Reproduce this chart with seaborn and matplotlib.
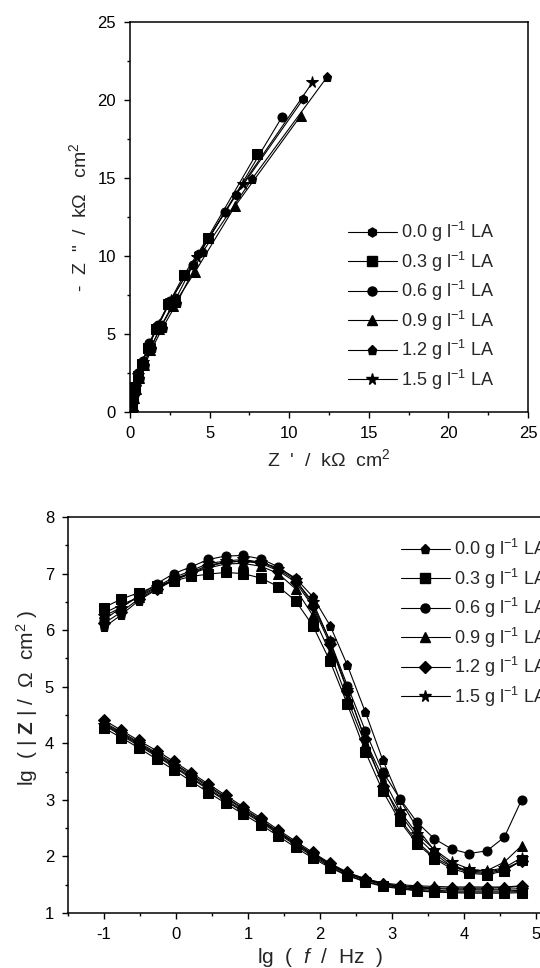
import numpy as np
import pandas as pd
import matplotlib
matplotlib.use("Agg")
import matplotlib.pyplot as plt
from matplotlib.lines import Line2D
from matplotlib.ticker import MultipleLocator
import seaborn as sns

sns.set_style("white")
plt.rcParams['font.family'] = ['Liberation Sans', 'DejaVu Sans']
plt.rcParams['mathtext.fontset'] = 'custom'
plt.rcParams['mathtext.rm'] = 'Liberation Sans'
plt.rcParams['mathtext.it'] = 'Liberation Sans:italic'
plt.rcParams['mathtext.bf'] = 'Liberation Sans:bold'
plt.rcParams['mathtext.default'] = 'regular'
plt.rcParams['axes.unicode_minus'] = False

# ---------------- data ----------------
labels = ["0.0 g l$^{-1}$ LA", "0.3 g l$^{-1}$ LA", "0.6 g l$^{-1}$ LA",
          "0.9 g l$^{-1}$ LA", "1.2 g l$^{-1}$ LA", "1.5 g l$^{-1}$ LA"]
nyq_markers = ["h", "s", "o", "^", "p", "*"]
bode_markers = ["p", "s", "o", "^", "D", "*"]

# Nyquist: Z' (kOhm cm2) and -Z'' (kOhm cm2)
nyq_x_00 = [0.12, 0.16, 0.24, 0.38, 0.58, 0.90, 1.35, 2.00, 2.90, 4.30, 6.65, 10.88]
nyq_y_00 = [0.00, 0.40, 0.90, 1.50, 2.20, 3.10, 4.20, 5.60, 7.30, 10.10, 13.90, 20.06]
nyq_x_03 = [0.10, 0.14, 0.21, 0.33, 0.50, 0.76, 1.12, 1.65, 2.40, 3.40, 4.87, 7.95]
nyq_y_03 = [0.00, 0.45, 1.00, 1.60, 2.30, 3.10, 4.10, 5.30, 6.90, 8.80, 11.15, 16.56]
nyq_x_06 = [0.10, 0.14, 0.22, 0.35, 0.52, 0.80, 1.20, 1.75, 2.50, 3.93, 5.96, 9.54]
nyq_y_06 = [0.00, 0.50, 1.10, 1.70, 2.50, 3.30, 4.40, 5.60, 7.10, 9.40, 12.82, 18.90]
nyq_x_09 = [0.12, 0.16, 0.24, 0.36, 0.55, 0.85, 1.25, 1.85, 2.70, 4.10, 6.60, 10.73]
nyq_y_09 = [0.00, 0.40, 0.90, 1.50, 2.20, 3.00, 4.00, 5.30, 6.80, 9.00, 13.20, 19.00]
nyq_x_12 = [0.12, 0.17, 0.26, 0.40, 0.60, 0.92, 1.40, 2.05, 2.95, 4.56, 7.68, 12.40]
nyq_y_12 = [0.00, 0.40, 0.90, 1.50, 2.20, 3.00, 4.10, 5.40, 7.00, 10.26, 14.96, 21.50]
nyq_x_15 = [0.10, 0.14, 0.22, 0.34, 0.52, 0.80, 1.20, 1.80, 2.60, 4.18, 7.07, 11.46]
nyq_y_15 = [0.00, 0.45, 1.00, 1.60, 2.35, 3.20, 4.30, 5.60, 7.20, 9.94, 14.60, 21.13]

# Bode: lg(f/Hz) and lg(|Z| / Ohm cm2)
lgf = [-1.00, -0.76, -0.52, -0.27, -0.03, 0.21, 0.45, 0.69, 0.93, 1.18, 1.42, 1.66, 1.90,
       2.14, 2.38, 2.63, 2.87, 3.11, 3.35, 3.59, 3.83, 4.07, 4.32, 4.56, 4.80]
up_00 = [6.05, 6.27, 6.52, 6.72, 6.88, 7.00, 7.13, 7.20, 7.22, 7.20, 7.10, 6.92, 6.59,
         6.08, 5.38, 4.55, 3.71, 3.00, 2.50, 2.10, 1.85, 1.74, 1.72, 1.78, 1.92]
up_03 = [6.40, 6.55, 6.66, 6.78, 6.87, 6.95, 6.99, 7.02, 7.00, 6.92, 6.77, 6.52, 6.08,
         5.45, 4.69, 3.85, 3.16, 2.62, 2.22, 1.96, 1.78, 1.70, 1.68, 1.74, 1.93]
up_06 = [6.18, 6.40, 6.60, 6.82, 7.00, 7.12, 7.25, 7.31, 7.32, 7.26, 7.12, 6.90, 6.45,
         5.81, 5.02, 4.22, 3.50, 3.02, 2.60, 2.31, 2.13, 2.05, 2.10, 2.34, 3.00]
up_09 = [6.30, 6.45, 6.58, 6.75, 6.90, 7.00, 7.10, 7.17, 7.18, 7.13, 7.00, 6.73, 6.26,
         5.60, 4.78, 3.98, 3.30, 2.66, 2.26, 1.98, 1.82, 1.75, 1.75, 1.90, 2.19]
up_12 = [6.12, 6.32, 6.55, 6.73, 6.90, 7.02, 7.15, 7.20, 7.22, 7.18, 7.05, 6.85, 6.42,
         5.75, 4.93, 4.07, 3.25, 2.75, 2.34, 2.05, 1.82, 1.72, 1.70, 1.76, 1.92]
up_15 = [6.25, 6.40, 6.60, 6.77, 6.93, 7.05, 7.18, 7.22, 7.25, 7.20, 7.08, 6.88, 6.50,
         5.80, 4.95, 4.05, 3.40, 2.80, 2.40, 2.12, 1.90, 1.78, 1.74, 1.80, 1.98]
lo_00 = [4.37, 4.20, 4.02, 3.83, 3.65, 3.45, 3.25, 3.05, 2.85, 2.65, 2.44, 2.24, 2.04,
         1.86, 1.70, 1.59, 1.51, 1.47, 1.44, 1.43, 1.42, 1.42, 1.42, 1.42, 1.43]
lo_03 = [4.27, 4.10, 3.92, 3.72, 3.53, 3.33, 3.13, 2.94, 2.75, 2.56, 2.36, 2.16, 1.97,
         1.80, 1.66, 1.55, 1.47, 1.43, 1.39, 1.37, 1.36, 1.35, 1.35, 1.35, 1.36]
lo_06 = [4.32, 4.14, 3.96, 3.77, 3.58, 3.38, 3.18, 2.98, 2.79, 2.60, 2.40, 2.20, 2.00,
         1.82, 1.67, 1.56, 1.48, 1.44, 1.40, 1.38, 1.37, 1.37, 1.37, 1.37, 1.38]
lo_09 = [4.35, 4.18, 4.00, 3.81, 3.63, 3.43, 3.23, 3.03, 2.84, 2.64, 2.44, 2.24, 2.05,
         1.87, 1.71, 1.61, 1.53, 1.50, 1.48, 1.47, 1.46, 1.46, 1.46, 1.46, 1.48]
lo_12 = [4.41, 4.23, 4.05, 3.87, 3.68, 3.48, 3.28, 3.08, 2.88, 2.68, 2.47, 2.27, 2.07,
         1.88, 1.72, 1.60, 1.52, 1.48, 1.46, 1.44, 1.44, 1.44, 1.44, 1.45, 1.47]
lo_15 = [4.33, 4.16, 3.98, 3.79, 3.60, 3.40, 3.20, 3.00, 2.81, 2.62, 2.42, 2.22, 2.02,
         1.84, 1.69, 1.58, 1.50, 1.45, 1.42, 1.40, 1.39, 1.39, 1.39, 1.39, 1.40]

nyq_x = [nyq_x_00, nyq_x_03, nyq_x_06, nyq_x_09, nyq_x_12, nyq_x_15]
nyq_y = [nyq_y_00, nyq_y_03, nyq_y_06, nyq_y_09, nyq_y_12, nyq_y_15]
upper = [up_00, up_03, up_06, up_09, up_12, up_15]
lower = [lo_00, lo_03, lo_06, lo_09, lo_12, lo_15]

# ---------------- figure ----------------
W, H = 540, 968
fig = plt.figure(figsize=(W / 100, H / 100), dpi=100)

def fbox(x0, y0, x1, y1):
    return [x0 / W, 1 - y1 / H, (x1 - x0) / W, (y1 - y0) / H]

ax1 = fig.add_axes(fbox(130, 22, 528, 412))
# lower panel extends past the right edge of the picture (cropped original)
ax2 = fig.add_axes(fbox(68, 517, 572, 913))

lw = 0.8
ms = 6.5

def msize(m):
    if m == "*":
        return ms + 2
    if m == "D":
        return ms - 0.5
    return ms

# Nyquist
for i in range(6):
    df = pd.DataFrame({"x": nyq_x[i], "y": nyq_y[i]})
    sns.lineplot(data=df, x="x", y="y", ax=ax1, sort=False, color="black",
                 lw=lw, marker=nyq_markers[i], markersize=msize(nyq_markers[i]),
                 markeredgecolor="black", markerfacecolor="black", legend=False)

# Bode
for grp in (upper, lower):
    for i in range(6):
        df = pd.DataFrame({"x": lgf, "y": grp[i]})
        sns.lineplot(data=df, x="x", y="y", ax=ax2, sort=False, color="black",
                     lw=lw, marker=bode_markers[i], markersize=msize(bode_markers[i]),
                     markeredgecolor="black", markerfacecolor="black", legend=False)

# axes styling
for ax in (ax1, ax2):
    for sp in ax.spines.values():
        sp.set_visible(True)
        sp.set_linewidth(1.1)
        sp.set_color("black")
    ax.tick_params(which="both", direction="out", top=False, right=False,
                   bottom=True, left=True, colors="black", labelsize=12, width=1.0)
    ax.tick_params(which="major", length=4, pad=6)
    ax.tick_params(which="minor", length=2.5)
    ax.set_facecolor("white")

ax1.set_xlim(0, 25)
ax1.set_ylim(0, 25)
ax1.xaxis.set_major_locator(MultipleLocator(5))
ax1.xaxis.set_minor_locator(MultipleLocator(2.5))
ax1.yaxis.set_major_locator(MultipleLocator(5))
ax1.yaxis.set_minor_locator(MultipleLocator(2.5))
ax1.set_xlabel("Z  '  /  k\u03a9  cm$^2$", fontsize=14, labelpad=5)
ax1.set_ylabel("-  Z  \"  /  k\u03a9   cm$^2$", fontsize=14, labelpad=5)

ax2.set_xlim(-1.5, 5.5)
ax2.set_ylim(1, 8)
ax2.xaxis.set_major_locator(MultipleLocator(1))
ax2.xaxis.set_minor_locator(MultipleLocator(0.5))
ax2.yaxis.set_major_locator(MultipleLocator(1))
ax2.yaxis.set_minor_locator(MultipleLocator(0.5))
ax2.set_xlabel("lg  (  $\\mathit{f}$  /  Hz  )", fontsize=15, labelpad=3)
ax2.set_ylabel("lg  ( | $\\mathbf{Z}$ | /  \u03a9  cm$^2$ )", fontsize=15)
ax2.yaxis.set_label_coords((40 - 68) / 504, (913 - 698) / 396)

def handles(markers):
    hs = []
    for m in markers:
        hs.append(Line2D([], [], color="black", lw=lw, marker=m,
                         markersize=msize(m),
                         markerfacecolor="black", markeredgecolor="black"))
    return hs

leg_kw = dict(frameon=False, fontsize=13, handlelength=2.7, handletextpad=0.25,
              labelspacing=0.3, borderpad=0, borderaxespad=0, loc="upper left")
ax1.legend(handles(nyq_markers), labels, bbox_to_anchor=(348 / W, 1 - 220 / H),
           bbox_transform=fig.transFigure, **leg_kw)
ax2.legend(handles(bode_markers), labels, bbox_to_anchor=(401 / W, 1 - 537 / H),
           bbox_transform=fig.transFigure, **leg_kw)

fig.savefig("out.png", dpi=100)
